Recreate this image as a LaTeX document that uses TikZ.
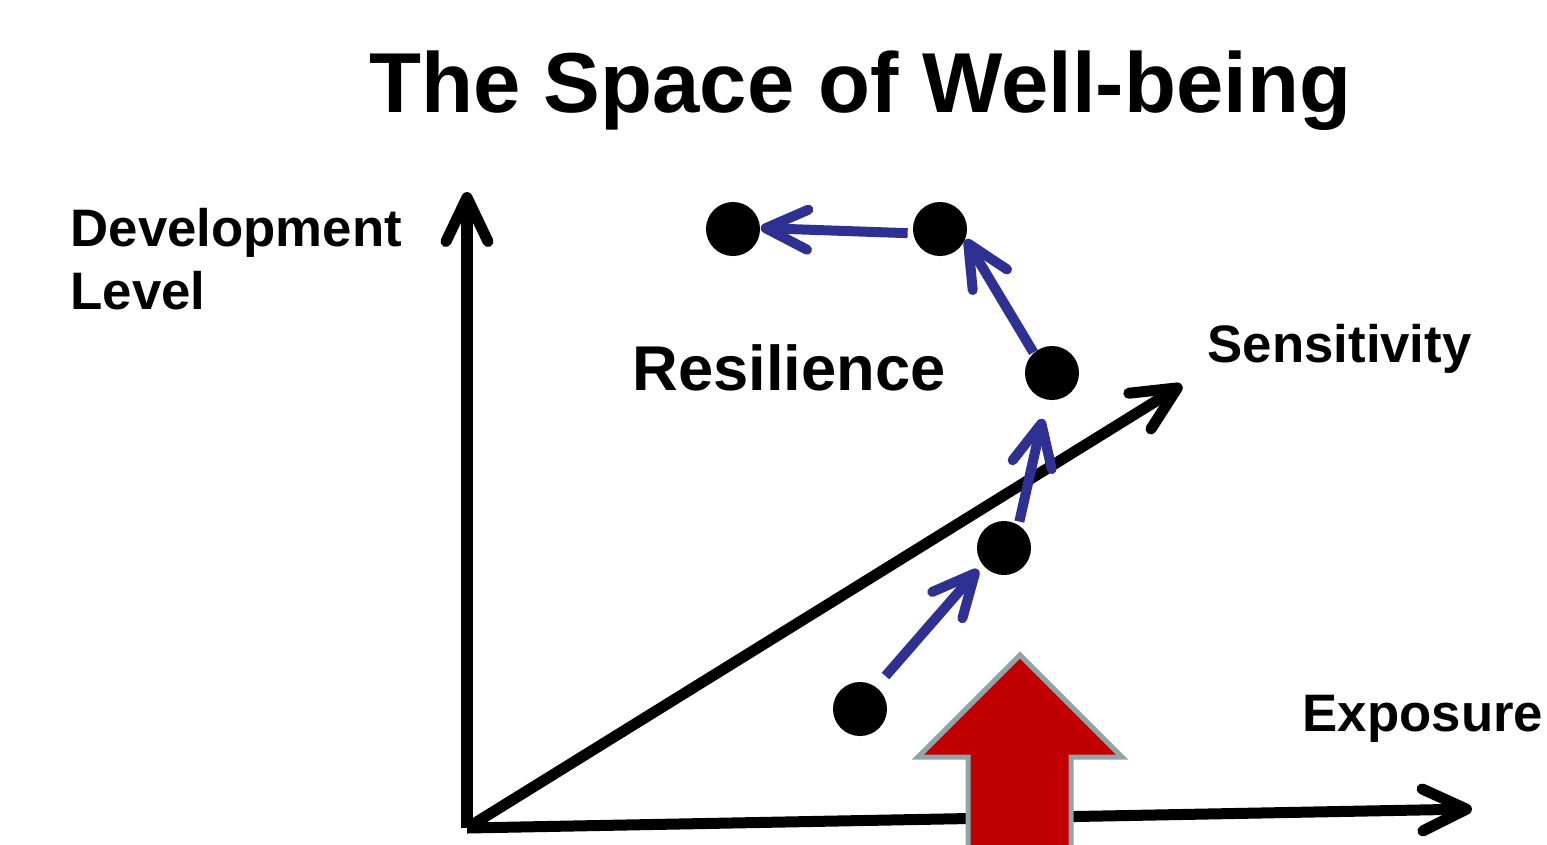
\documentclass[tikz,border=0pt]{standalone}
\usepackage{fontspec}
\setmainfont{Liberation Sans}
\usetikzlibrary{arrows.meta}
\definecolor{pathblue}{HTML}{2E3192}
\definecolor{shockred}{HTML}{C00000}
\definecolor{shockedge}{HTML}{8FA5A8}

\begin{document}
\begin{tikzpicture}[x=0.01cm,y=-0.01cm,
  axis/.style={line width=0.11cm, -{Straight Barb[length=0.44cm,width=0.42cm,line width=0.11cm,round]}},
  move/.style={draw=pathblue, line width=0.1cm, -{Straight Barb[length=0.42cm,width=0.4cm,line width=0.1cm,round]}},
  dot/.style={circle, fill=black, minimum size=0.54cm, inner sep=0pt},
  label/.style={anchor=base west, font=\bfseries\fontsize{15}{18}\selectfont, inner sep=0pt},
  shock/.style={draw=shockedge, fill=shockred, line width=0.05cm}]

\useasboundingbox (0,0) rectangle (1547,844);
\clip (0,0) rectangle (1547,844);

% title
\node[anchor=base, inner sep=0pt, font=\bfseries\fontsize{24.2}{29}\selectfont] (title) at (860,112) {The Space of Well-being};

% axes
\coordinate (O) at (467,828);
\coordinate (ytip) at (467,192);
\coordinate (stip) at (1182,385);
\coordinate (xtip) at (1472,809);
\draw[axis] (O) -- (ytip);
\draw[axis] (O) -- (stip);
\draw[axis] (O) -- (xtip);

% axis labels
\node[label] (ylab1) at (70,246) {Development};
\node[label] (ylab2) at (70,309) {Level};
\node[label] (slab) at (1207,362) {Sensitivity};
\node[label] (xlab) at (1302,731) {Exposure};
\node[anchor=base west, inner sep=0pt, font=\bfseries\fontsize{18}{21}\selectfont] (res) at (632,390) {Resilience};

% states
\node[dot] (d1) at (733,229) {};
\node[dot] (d2) at (940,229) {};
\node[dot] (d3) at (1052,373) {};
\node[dot] (d4) at (1004,548) {};
\node[dot] (d5) at (860,709) {};

% trajectory
\draw[move, shorten <=0.14cm, shorten >=0.06cm] (d5.54) -- (d4.218);
\draw[move, shorten <=0.03cm, shorten >=0.19cm] (d4.58) -- (d3.259);
\draw[move] (d3.132) -- (d2.-22);
\draw[move, shorten <=0.05cm] (d2.189) -- (d1.2);

% shock arrow
\draw[shock] (1020,655) -- (1122,757) -- (1071,757) -- (1071,870)
  -- (968,870) -- (968,757) -- (918,757) -- cycle;
\end{tikzpicture}
\end{document}
